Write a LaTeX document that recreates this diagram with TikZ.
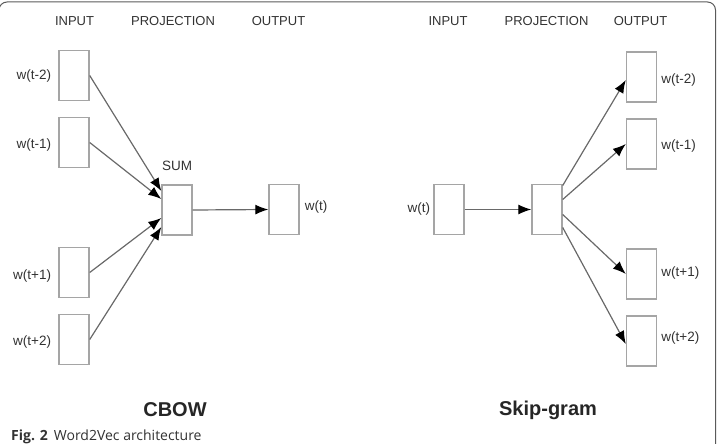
\documentclass[tikz,border=0pt]{standalone}
\usepackage{fontspec}
\setmainfont{Liberation Sans}
\newfontfamily\capfont{Open Sans}
\definecolor{inkgray}{RGB}{50, 50, 50}
\definecolor{boxgray}{RGB}{165, 165, 165}
\definecolor{linegray}{RGB}{105, 105, 105}
\definecolor{framegray}{RGB}{90, 90, 90}
\usetikzlibrary{arrows.meta, positioning}
\tikzset{
	vec/.style={rectangle, draw=boxgray, line width=1.4pt, minimum width=30pt, minimum height=50pt, inner sep=0pt},
	head/.style={font=\fontsize{13}{15}\selectfont, text=inkgray, inner sep=0pt},
	word/.style={font=\fontsize{13.5}{15}\selectfont, text=inkgray, inner sep=0pt},
	title/.style={font=\fontsize{20}{22}\selectfont\bfseries, text=black!85, inner sep=0pt},
	arrow/.style={-{Latex[length=13pt, width=10pt, color=black]}, line width=1.2pt, draw=linegray},
}

\begin{document}
\begin{tikzpicture}[x=1pt, y=-1pt, node distance=7pt]
		\useasboundingbox (0,0) rectangle (717,444);
		\draw[framegray, line width=1pt, rounded corners=8pt] (-1,16) -- (-1,2) -- (715.5,2) -- (715.5,446);
		% CBOW
		\node[head] (cin) at (74.5,21) {INPUT};
		\node[head] (cproj) at (173,21) {PROJECTION};
		\node[head] (cout) at (278.5,21) {OUTPUT};
		\node[vec] (in1) at (74,75.5) {};
		\node[vec] (in2) at (74,142.5) {};
		\node[vec] (in3) at (74,272.5) {};
		\node[vec] (in4) at (74,339.5) {};
		\node[vec] (sum) at (177,210) {};
		\node[vec] (target) at (284,209.5) {};
		\node[word, left=of in1, yshift=-1pt] (lin1) {w(t-2)};
		\node[word, left=of in2, yshift=-3pt] (lin2) {w(t-1)};
		\node[word, left=of in3, yshift=-4pt] (lin3) {w(t+1)};
		\node[word, left=of in4, yshift=-3pt] (lin4) {w(t+2)};
		\node[word, above=13pt of sum] (lsum) {SUM};
		\node[word, right=5pt of target, yshift=2pt] (ltarget) {w(t)};
		\draw[arrow] (in1.east) -- ([yshift=19pt]sum.west);
		\draw[arrow] (in2.east) -- ([yshift=11pt]sum.west);
		\draw[arrow] (in3.east) -- ([yshift=-8pt]sum.west);
		\draw[arrow] (in4.east) -- ([yshift=-17pt]sum.west);
		\draw[arrow] (sum.east) -- (target.west);
		\node[title] (cbow) at (175,410) {CBOW};
		% Skip-gram
		\node[head] (sin) at (448,21) {INPUT};
		\node[head] (sproj) at (546.5,21) {PROJECTION};
		\node[head] (sout) at (640.5,21) {OUTPUT};
		\node[vec] (center) at (449,209.5) {};
		\node[vec] (hidden) at (547,209.5) {};
		\node[vec] (out1) at (641.5,77) {};
		\node[vec] (out2) at (641.5,144) {};
		\node[vec] (out3) at (641.5,274) {};
		\node[vec] (out4) at (641.5,341) {};
		\node[word, left=3pt of center] (lcenter) {w(t)};
		\node[word, right=4pt of out1, yshift=-3pt] (lout1) {w(t-2)};
		\node[word, right=4pt of out2, yshift=-2pt] (lout2) {w(t-1)};
		\node[word, right=4pt of out3, yshift=1pt] (lout3) {w(t+1)};
		\node[word, right=4pt of out4, yshift=3pt] (lout4) {w(t+2)};
		\draw[arrow] (center.east) -- (hidden.west);
		\draw[arrow] ([yshift=24pt]hidden.east) -- ([yshift=-3pt]out1.west);
		\draw[arrow] ([yshift=10pt]hidden.east) -- (out2.west);
		\draw[arrow] ([yshift=-5pt]hidden.east) -- (out3.west);
		\draw[arrow] ([yshift=-18pt]hidden.east) -- ([yshift=-3pt]out4.west);
		\node[title] (skip) at (548,410) {Skip-gram};
		% caption
		\node[anchor=base west, inner sep=0pt, text=inkgray, font=\capfont\fontsize{14}{16}\selectfont] (caption) at (11,440) {\textbf{Fig. 2}\hspace{6pt}Word2Vec architecture};
	\end{tikzpicture}
\end{document}
